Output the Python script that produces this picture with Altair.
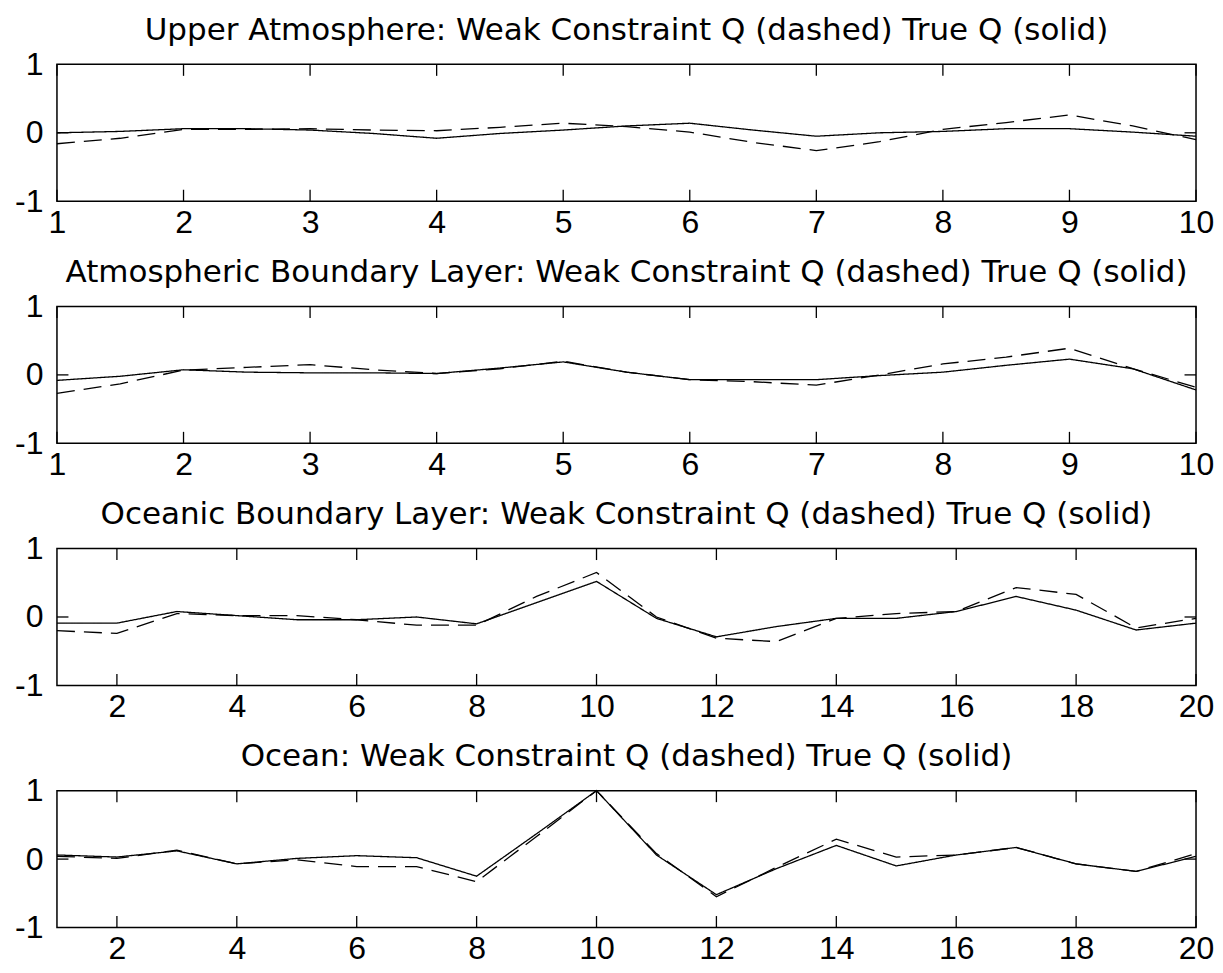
import altair as alt
import pandas as pd

# ---------------- data ----------------
x_half = [1, 1.5, 2, 2.5, 3, 3.5, 4, 4.5, 5, 5.5, 6, 6.5, 7, 7.5, 8, 8.5, 9, 9.5, 10]
x_int = [1, 2, 3, 4, 5, 6, 7, 8, 9, 10, 11, 12, 13, 14, 15, 16, 17, 18, 19, 20]

upper_dashed = [-0.16, -0.08, 0.05, 0.05, 0.06, 0.04, 0.03, 0.08, 0.14, 0.09,
                0.01, -0.14, -0.26, -0.13, 0.05, 0.15, 0.26, 0.10, -0.10]
upper_solid = [0.00, 0.02, 0.06, 0.06, 0.04, -0.01, -0.08, -0.01, 0.04, 0.10,
               0.14, 0.04, -0.05, 0.00, 0.02, 0.06, 0.06, 0.01, -0.05]

abl_dashed = [-0.27, -0.13, 0.07, 0.11, 0.15, 0.075, 0.02, 0.09, 0.20, 0.04,
              -0.07, -0.10, -0.15, 0.00, 0.16, 0.26, 0.39, 0.09, -0.18]
abl_solid = [-0.08, -0.02, 0.075, 0.04, 0.03, 0.03, 0.02, 0.10, 0.19, 0.04,
             -0.07, -0.07, -0.07, -0.01, 0.04, 0.14, 0.23, 0.09, -0.22]

obl_dashed = [-0.20, -0.24, 0.05, 0.02, 0.02, -0.04, -0.12, -0.12, 0.30, 0.65,
              0.00, -0.31, -0.36, -0.02, 0.05, 0.08, 0.43, 0.33, -0.16, -0.02]
obl_solid = [-0.09, -0.09, 0.08, 0.02, -0.04, -0.04, 0.00, -0.10, 0.21, 0.52,
             -0.02, -0.29, -0.14, -0.02, -0.02, 0.08, 0.30, 0.10, -0.19, -0.09]

ocean_dashed = [0.04, 0.01, 0.13, -0.07, -0.01, -0.11, -0.11, -0.33, 0.33, 1.00,
                0.08, -0.55, -0.12, 0.29, 0.03, 0.06, 0.17, -0.07, -0.18, 0.08]
ocean_solid = [0.06, 0.03, 0.12, -0.07, 0.01, 0.05, 0.02, -0.25, 0.37, 1.00,
               0.06, -0.52, -0.14, 0.20, -0.10, 0.06, 0.17, -0.07, -0.18, 0.04]

titles = [
    "Upper Atmosphere: Weak Constraint Q (dashed) True Q (solid)",
    "Atmospheric Boundary Layer: Weak Constraint Q (dashed) True Q (solid)",
    "Oceanic Boundary Layer: Weak Constraint Q (dashed) True Q (solid)",
    "Ocean: Weak Constraint Q (dashed) True Q (solid)",
]
xticks_10 = [1, 2, 3, 4, 5, 6, 7, 8, 9, 10]
xticks_20 = [2, 4, 6, 8, 10, 12, 14, 16, 18, 20]
yticks = [-1, 0, 1]
series_names = ["Weak Constraint Q", "True Q"]

# ---------------- styling ----------------
W, H = 1140, 137
TL = 11.5
LABEL_FONT = "Liberation Sans"
LABEL_SIZE = 32
TITLE_FONT = "DejaVu Sans"


def panel(title, xs, dashed, solid, xmax, xtick_vals):
    n = len(xs)
    df = pd.DataFrame({
        "x": list(xs) + list(xs),
        "q": list(dashed) + list(solid),
        "series": [series_names[0]] * n + [series_names[1]] * n,
    })
    xscale = alt.Scale(domain=[1, xmax], nice=False, zero=False)
    yscale = alt.Scale(domain=[-1, 1], nice=False, zero=False)
    xaxis = alt.Axis(values=xtick_vals, ticks=False, domain=False, grid=False,
                     title=None, labelFontSize=LABEL_SIZE, labelFont=LABEL_FONT,
                     labelColor="black", labelPadding=6, labelFlush=False,
                     labelOverlap=False, labelExpr="'' + datum.value")
    yaxis = alt.Axis(values=yticks, ticks=False, domain=False, grid=False,
                     title=None, labelFontSize=LABEL_SIZE, labelFont=LABEL_FONT,
                     labelColor="black", labelPadding=14, labelOverlap=False,
                     labelExpr="'' + datum.value")

    lines = alt.Chart(df).mark_line(color="black", strokeWidth=1.3).encode(
        x=alt.X("x:Q", scale=xscale, axis=xaxis),
        y=alt.Y("q:Q", scale=yscale, axis=yaxis),
        strokeDash=alt.StrokeDash(
            "series:N",
            scale=alt.Scale(domain=series_names, range=[[18, 9], [1, 0]]),
            legend=None,
        ),
    )
    xt = pd.DataFrame({"x": xtick_vals})
    yt = pd.DataFrame({"q": [v for v in yticks if -1 < v < 1]})
    tick_style = dict(color="black", strokeWidth=1.3)
    bottom = alt.Chart(xt).mark_rule(**tick_style).encode(
        x=alt.X("x:Q", scale=xscale, axis=xaxis),
        y=alt.value(H), y2=alt.value(H - TL))
    top = alt.Chart(xt).mark_rule(**tick_style).encode(
        x=alt.X("x:Q", scale=xscale, axis=xaxis),
        y=alt.value(0), y2=alt.value(TL))
    left = alt.Chart(yt).mark_rule(**tick_style).encode(
        y=alt.Y("q:Q", scale=yscale, axis=yaxis),
        x=alt.value(0), x2=alt.value(TL))
    right = alt.Chart(yt).mark_rule(**tick_style).encode(
        y=alt.Y("q:Q", scale=yscale, axis=yaxis),
        x=alt.value(W - TL), x2=alt.value(W))

    return alt.layer(lines, bottom, top, left, right).properties(
        width=W, height=H,
        title=alt.TitleParams(title, font=TITLE_FONT, fontSize=31,
                              fontWeight="normal", color="black",
                              anchor="middle", frame="group", offset=1.5),
    )


panels = [
    panel(titles[0], x_half, upper_dashed, upper_solid, 10, xticks_10),
    panel(titles[1], x_half, abl_dashed, abl_solid, 10, xticks_10),
    panel(titles[2], x_int, obl_dashed, obl_solid, 20, xticks_20),
    panel(titles[3], x_int, ocean_dashed, ocean_solid, 20, xticks_20),
]

chart = alt.vconcat(*panels, spacing=16.3).properties(
    padding={"left": 5, "top": 5, "right": 0, "bottom": 0},
    background="white",
).configure_view(stroke="black", strokeWidth=1.5)

chart.save("out.html", embed_options={"renderer": "svg", "actions": False})
